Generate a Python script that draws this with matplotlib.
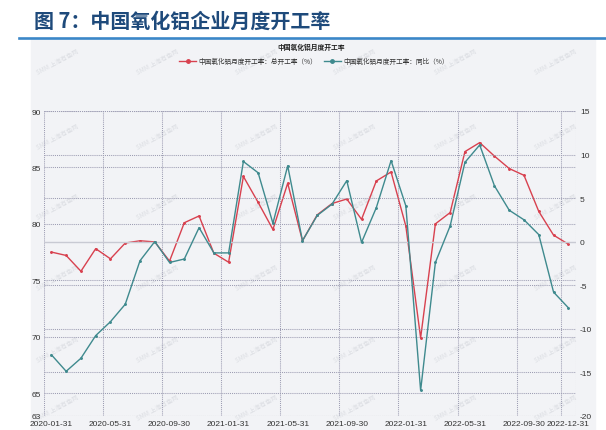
import matplotlib.pyplot as plt
import pandas as pd
from matplotlib.patches import Rectangle
from matplotlib.lines import Line2D

plt.rcParams['font.family'] = ['Noto Sans CJK SC', 'DejaVu Sans']
plt.rcParams['axes.unicode_minus'] = False

# data
dates = pd.date_range('2020-01-31', periods=36, freq='ME').strftime('%Y-%m-%d').tolist()
total_rate = [77.5, 77.2, 75.8, 77.8, 76.9, 78.3, 78.5, 78.4, 76.7, 80.1, 80.7, 77.4,
              76.6, 84.2, 81.9, 79.5, 83.6, 78.5, 80.8, 81.8, 82.2, 80.4, 83.8, 84.6,
              79.8, 69.9, 80.0, 81.0, 86.4, 87.2, 86.0, 84.9, 84.3, 81.1, 79.0, 78.2]
yoy = [-13.0, -14.9, -13.4, -10.8, -9.2, -7.2, -2.2, 0.0, -2.4, -2.0, 1.6, -1.3,
       -1.3, 9.2, 7.9, 2.1, 8.7, 0.1, 3.0, 4.3, 7.0, -0.1, 3.9, 9.3,
       4.1, -17.1, -2.4, 1.8, 9.1, 11.1, 6.4, 3.6, 2.5, 0.8, -5.8, -7.6]
left_ticks = [63, 65, 70, 75, 80, 85, 90]
right_ticks = [-20, -15, -10, -5, 0, 5, 10, 15]
label_idx = [0, 4, 8, 12, 16, 20, 24, 28, 32, 35]

W, H = 606, 431
red = '#D8414F'
teal = '#3F8A8E'
grid_c = '#9D9DB3'
narrow = ['Liberation Sans Narrow', 'Liberation Sans', 'DejaVu Sans']

fig = plt.figure(figsize=(W / 100, H / 100), dpi=100)

# title and rule
fig.text(34 / W, 1 - 21 / H, '图 7：中国氧化铝企业月度开工率', fontsize=14.4,
         fontweight='bold', color='#1E4A7B', va='center', ha='left')
fig.add_artist(Line2D([19 / W, 1], [1 - 38.5 / H] * 2, color='#3B87C8', lw=1.9))

# light panel
fig.patches.append(Rectangle((31 / W, 0), (595 - 31) / W, 1 - 40 / H,
                             transform=fig.transFigure, color='#F2F3F6', zorder=-5))

# watermarks
for yy in [62, 137, 207, 278, 350, 408]:
    for xx in [58, 158, 257, 355, 456, 556]:
        fig.text(xx / W, 1 - yy / H, 'SMM 上海有色网', fontsize=4.5, color='#DCDEE3',
                 rotation=28, ha='center', va='center', zorder=-4)

fig.text(311 / W, 1 - 47 / H, '中国氧化铝月度开工率', fontsize=4.9, fontweight='bold',
         color='#222222', ha='center', va='center')

x0, x1, yt, yb = 44, 575.7, 112, 416.7
ax = fig.add_axes([x0 / W, 1 - yb / H, (x1 - x0) / W, (yb - yt) / H])
ax.set_facecolor('none')
ax2 = ax.twinx()
x = list(range(len(dates)))

ax.set_xlim(-0.5, 35.5)
ax.set_ylim(63, 90)
ax2.set_ylim(-20, 15)

dot = dict(linestyle=(0, (1, 1)), lw=0.75, color=grid_c)
for v in left_ticks:
    ax.axhline(v, zorder=0, **dot)
for v in right_ticks:
    if v == 0:
        ax2.axhline(0, color='#C8CAD3', lw=1, zorder=0)
    else:
        ax2.axhline(v, zorder=0, **dot)
for b in [-0.5, 3.5, 7.5, 11.5, 15.5, 19.5, 23.5, 27.5, 31.5, 34.5, 35.5]:
    ax.axvline(b, zorder=0, **dot)

ax.plot(x, total_rate, color=red, lw=1.0, marker='o', ms=1.1, zorder=3)
ax2.plot(x, yoy, color=teal, lw=1.0, marker='o', ms=1.1, zorder=3)

ax.set_yticks(left_ticks)
ax2.set_yticks(right_ticks)
ax.set_xticks(label_idx)
ax.set_xticklabels([dates[i] for i in label_idx])
for a in (ax, ax2):
    for s in a.spines.values():
        s.set_visible(False)
    a.tick_params(length=0, labelsize=6, labelcolor='#333333')
    for lab in a.get_xticklabels() + a.get_yticklabels():
        lab.set_family(narrow)
ax.tick_params(axis='y', pad=2)
ax.tick_params(axis='x', pad=3)
ax2.tick_params(axis='y', pad=3)

handles = [Line2D([], [], color=red, lw=1.0, marker='o', ms=2.5),
           Line2D([], [], color=teal, lw=1.0, marker='o', ms=2.5)]
fig.legend(handles, ['中国氧化铝月度开工率：总开工率（%）', '中国氧化铝月度开工率：同比（%）'],
           loc='center', bbox_to_anchor=(314 / W, 1 - 62 / H), ncol=2, frameon=False,
           fontsize=4.8, handlelength=2.5, handletextpad=0.4, columnspacing=1.0,
           labelcolor='#333333')

fig.savefig('out.png', dpi=100)
